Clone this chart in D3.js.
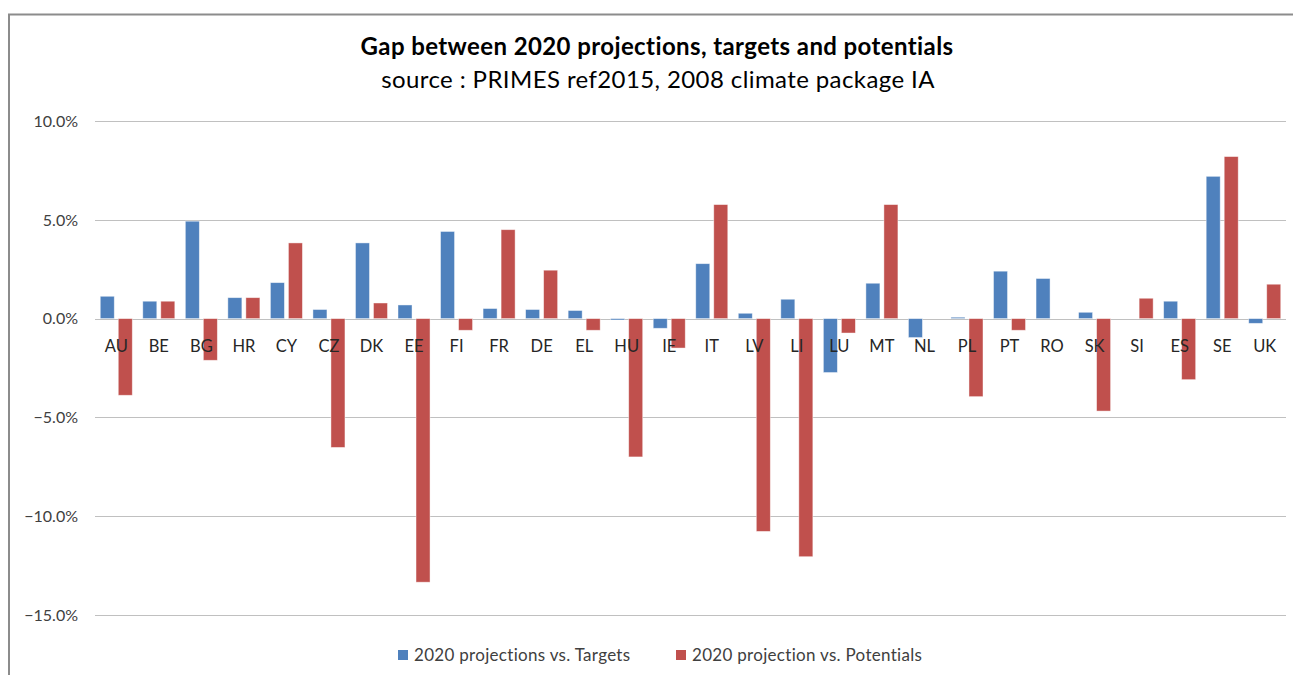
<!DOCTYPE html>
<html lang="en">
<head>
    <meta charset="UTF-8">
    <script src="https://d3js.org/d3.v7.min.js"></script>
    <title>Gap between 2020 projections, targets and potentials</title>
    <style>
        body {
            margin: 0;
            background: #ffffff;
            font-family: Lato, "Open Sans", sans-serif;
        }
        svg {
            display: block;
        }
    </style>
</head>
<body>
    <script>
        // ---------------- data ----------------
        const countries = ["AU", "BE", "BG", "HR", "CY", "CZ", "DK", "EE", "FI", "FR", "DE", "EL", "HU", "IE",
            "IT", "LV", "LI", "LU", "MT", "NL", "PL", "PT", "RO", "SK", "SI", "ES", "SE", "UK"];

        // 2020 projections vs. Targets (%)
        const vsTargets = [1.13, 0.88, 4.93, 1.06, 1.82, 0.46, 3.83, 0.69, 4.41, 0.51, 0.46, 0.41, -0.07, -0.49,
            2.78, 0.27, 0.98, -2.73, 1.79, -0.96, 0.07, 2.40, 2.03, 0.32, 0.0, 0.88, 7.20, -0.24];

        // 2020 projection vs. Potentials (%)
        const vsPotentials = [-3.88, 0.88, -2.11, 1.06, 3.83, -6.52, 0.79, -13.34, -0.59, 4.50, 2.45, -0.59, -7.00, -1.49,
            5.77, -10.77, -12.05, -0.73, 5.77, 0.0, -3.95, -0.59, 0.0, -4.68, 1.03, -3.09, 8.20, 1.74];

        const seriesNames = ["2020 projections vs. Targets", "2020 projection vs. Potentials"];
        const seriesColors = ["#4F81BD", "#C0504D"];
        const yTicks = [10, 5, 0, -5, -10, -15];

        const titleText = "Gap between 2020 projections, targets and potentials";
        const subtitleText = "source : PRIMES ref2015, 2008 climate package IA";

        // ---------------- layout ----------------
        const width = 1293, height = 675;
        const plot = { left: 95, right: 1286, top: 121, bottom: 615 };

        const svg = d3.select("body").append("svg")
            .attr("width", width)
            .attr("height", height);

        // chart frame (only top and left edges visible in the picture)
        svg.append("path")
            .attr("d", `M9,${height} V14.5 H${width}`)
            .attr("fill", "none")
            .attr("stroke", "#8c8c8c")
            .attr("stroke-width", 2);

        // ---------------- scales ----------------
        const y = d3.scaleLinear()
            .domain([-15, 10])
            .range([plot.bottom, plot.top]);

        const x = d3.scaleBand()
            .domain(countries)
            .range([plot.left, plot.right])
            .paddingInner(0.247)
            .paddingOuter(0.1235);

        const xs = d3.scaleBand()
            .domain([0, 1])
            .range([0, x.bandwidth()])
            .paddingInner(0.222);

        // ---------------- grid + y axis ----------------
        svg.append("g")
            .selectAll("line")
            .data(yTicks)
            .join("line")
            .attr("x1", plot.left)
            .attr("x2", plot.right)
            .attr("y1", d => Math.round(y(d)) + 0.5)
            .attr("y2", d => Math.round(y(d)) + 0.5)
            .attr("stroke", "#c0c0c0")
            .attr("stroke-width", 1.2);

        svg.append("g")
            .selectAll("text")
            .data(yTicks)
            .join("text")
            .attr("x", 78)
            .attr("y", d => y(d))
            .attr("dy", "0.36em")
            .attr("text-anchor", "end")
            .attr("font-size", 16)
            .attr("fill", "#404040")
            .text(d => d3.format(".1f")(d) + "%");

        // ---------------- bars ----------------
        const rows = countries.map((c, i) => ({ country: c, values: [vsTargets[i], vsPotentials[i]] }));

        const groups = svg.append("g")
            .selectAll("g")
            .data(rows)
            .join("g")
            .attr("transform", d => `translate(${x(d.country)},0)`);

        groups.selectAll("rect")
            .data(d => d.values.map((v, k) => ({ k, v })))
            .join("rect")
            .attr("x", d => xs(d.k))
            .attr("width", xs.bandwidth())
            .attr("y", d => y(Math.max(0, d.v)))
            .attr("height", d => Math.abs(y(d.v) - y(0)))
            .attr("fill", d => seriesColors[d.k])
            .attr("stroke", "rgba(255,255,255,0.55)")
            .attr("stroke-width", 0.8);

        // category labels (drawn over the bars, as in the original)
        svg.append("g")
            .selectAll("text")
            .data(countries)
            .join("text")
            .attr("x", d => x(d) + x.bandwidth() / 2)
            .attr("y", y(0) + 27)
            .attr("dy", "0.36em")
            .attr("text-anchor", "middle")
            .attr("font-size", 16.5)
            .attr("fill", "#262626")
            .text(d => d);

        // ---------------- titles ----------------
        svg.append("text")
            .attr("x", 657)
            .attr("y", 55)
            .attr("text-anchor", "middle")
            .attr("font-size", 24)
            .attr("font-weight", "bold")
            .attr("letter-spacing", 0.4)
            .attr("fill", "#000")
            .text(titleText);

        svg.append("text")
            .attr("x", 658)
            .attr("y", 88)
            .attr("text-anchor", "middle")
            .attr("font-size", 24)
            .attr("letter-spacing", 0.4)
            .attr("fill", "#000")
            .text(subtitleText);

        // ---------------- legend ----------------
        const legendX = [398, 676];
        const legend = svg.append("g")
            .selectAll("g")
            .data(seriesNames)
            .join("g")
            .attr("transform", (d, i) => `translate(${legendX[i]},655)`);

        legend.append("rect")
            .attr("x", 0)
            .attr("y", -5)
            .attr("width", 10)
            .attr("height", 10)
            .attr("fill", (d, i) => seriesColors[i]);

        legend.append("text")
            .attr("x", 16)
            .attr("dy", "0.36em")
            .attr("font-size", 17)
            .attr("letter-spacing", 0.3)
            .attr("fill", "#404040")
            .text(d => d);
    </script>
</body>
</html>
